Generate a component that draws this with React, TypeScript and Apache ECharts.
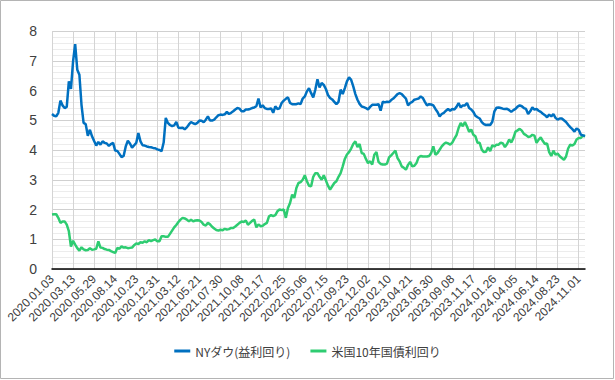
import React, { useEffect, useRef } from "react";
import * as echarts from "echarts";

const tickLabels = [
  "2020.01.03", "2020.03.13", "2020.05.29", "2020.08.14", "2020.10.23", "2020.12.31",
  "2021.03.12", "2021.05.21", "2021.07.30", "2021.10.08", "2021.12.17", "2022.02.25",
  "2022.05.06", "2022.07.15", "2022.09.23", "2022.12.02", "2023.02.10", "2023.04.21",
  "2023.06.30", "2023.09.08", "2023.11.17", "2024.01.26", "2024.04.05", "2024.06.14",
  "2024.08.23", "2024.11.01",
];

const dowYield = [
  5.21, 5.15, 5.13, 5.25, 5.66, 5.50, 5.41, 5.45, 6.31, 6.05,
  6.98, 7.56, 6.70, 6.53, 5.52, 4.91, 4.87, 4.48, 4.68, 4.46,
  4.30, 4.15, 4.27, 4.18, 4.29, 4.24, 4.22, 4.14, 4.20, 4.24,
  3.98, 3.97, 3.87, 3.76, 3.80, 4.12, 4.31, 4.22, 4.08, 4.16,
  4.24, 4.57, 4.29, 4.16, 4.15, 4.12, 4.10, 4.09, 4.07, 4.06,
  4.02, 4.00, 3.96, 4.25, 5.08, 4.91, 4.84, 4.80, 4.83, 4.94,
  4.75, 4.74, 4.75, 4.70, 4.76, 4.86, 4.94, 4.90, 4.87, 4.91,
  4.99, 4.98, 4.93, 5.02, 5.13, 4.99, 4.99, 5.02, 5.10, 5.17,
  5.19, 5.18, 5.20, 5.28, 5.21, 5.25, 5.30, 5.36, 5.41, 5.39,
  5.30, 5.30, 5.36, 5.36, 5.38, 5.41, 5.43, 5.47, 5.73, 5.43,
  5.50, 5.41, 5.38, 5.38, 5.40, 5.25, 5.47, 5.38, 5.40, 5.58,
  5.66, 5.72, 5.77, 5.58, 5.54, 5.54, 5.54, 5.57, 5.54, 5.73,
  5.80, 5.97, 6.08, 5.91, 5.77, 6.03, 6.38, 6.10, 6.25, 6.19,
  6.05, 5.85, 5.75, 5.70, 5.62, 5.54, 5.62, 6.03, 5.88, 6.08,
  6.31, 6.44, 6.36, 6.14, 5.88, 5.69, 5.55, 5.46, 5.44, 5.41,
  5.36, 5.45, 5.52, 5.52, 5.52, 5.54, 5.32, 5.62, 5.60, 5.62,
  5.61, 5.68, 5.73, 5.80, 5.88, 5.91, 5.88, 5.80, 5.73, 5.50,
  5.58, 5.62, 5.69, 5.71, 5.73, 5.80, 5.75, 5.62, 5.50, 5.54,
  5.53, 5.50, 5.38, 5.28, 5.13, 5.21, 5.25, 5.32, 5.38, 5.32,
  5.38, 5.36, 5.45, 5.58, 5.43, 5.50, 5.50, 5.58, 5.41, 5.36,
  5.28, 5.15, 5.10, 5.06, 4.94, 4.87, 4.84, 4.85, 4.84, 4.95,
  5.30, 5.42, 5.43, 5.41, 5.39, 5.38, 5.39, 5.34, 5.28, 5.34,
  5.38, 5.46, 5.50, 5.47, 5.41, 5.38, 5.21, 5.30, 5.43, 5.36,
  5.38, 5.32, 5.28, 5.22, 5.17, 5.10, 5.19, 5.13, 5.21, 5.08,
  5.02, 5.06, 5.06, 5.00, 4.94, 4.85, 4.77, 4.70, 4.62, 4.72,
  4.68, 4.52, 4.49, 4.48,
];

const us10y = [
  1.83, 1.84, 1.84, 1.72, 1.55, 1.60, 1.60, 1.49, 1.27, 0.75,
  0.95, 0.82, 0.70, 0.62, 0.73, 0.66, 0.63, 0.64, 0.70, 0.65,
  0.66, 0.68, 0.93, 0.72, 0.71, 0.67, 0.65, 0.64, 0.60, 0.57,
  0.54, 0.71, 0.68, 0.76, 0.72, 0.73, 0.70, 0.71, 0.72, 0.80,
  0.86, 0.84, 0.90, 0.88, 0.93, 0.90, 0.97, 0.94, 0.97, 0.99,
  0.93, 0.93, 1.10, 1.10, 1.08, 1.08, 1.18, 1.29, 1.40, 1.48,
  1.58, 1.66, 1.72, 1.70, 1.66, 1.60, 1.66, 1.60, 1.63, 1.64,
  1.63, 1.58, 1.49, 1.46, 1.55, 1.50, 1.42, 1.36, 1.31, 1.29,
  1.32, 1.30, 1.35, 1.33, 1.34, 1.38, 1.38, 1.43, 1.49, 1.55,
  1.60, 1.58, 1.63, 1.49, 1.55, 1.62, 1.66, 1.40, 1.50, 1.44,
  1.45, 1.51, 1.55, 1.77, 1.81, 1.78, 1.81, 1.94, 2.00, 1.98,
  2.00, 1.72, 2.05, 2.22, 2.50, 2.39, 2.72, 2.89, 2.92, 3.00,
  3.15, 2.95, 2.80, 2.78, 3.10, 3.22, 3.22, 3.10, 3.00, 3.15,
  2.98, 2.80, 2.67, 2.78, 2.89, 2.95, 3.10, 3.22, 3.45, 3.70,
  3.85, 3.93, 4.05, 4.20, 4.29, 4.10, 4.20, 3.90, 3.87, 3.70,
  3.56, 3.62, 3.51, 3.84, 3.93, 3.60, 3.53, 3.51, 3.51, 3.54,
  3.75, 3.82, 3.90, 3.98, 3.73, 3.62, 3.45, 3.40, 3.34, 3.50,
  3.60, 3.45, 3.47, 3.56, 3.75, 3.80, 3.78, 3.78, 3.78, 3.80,
  3.90, 4.12, 3.84, 3.90, 4.01, 4.12, 4.20, 4.25, 4.22, 4.18,
  4.25, 4.38, 4.50, 4.74, 4.91, 4.80, 4.94, 4.79, 4.61, 4.69,
  4.51, 4.46, 4.24, 4.24, 4.01, 3.93, 3.94, 4.09, 3.96, 4.16,
  4.12, 4.18, 4.18, 4.25, 4.22, 4.10, 4.20, 4.35, 4.25, 4.40,
  4.62, 4.66, 4.71, 4.65, 4.54, 4.50, 4.44, 4.45, 4.51, 4.48,
  4.24, 4.35, 4.42, 4.30, 4.20, 4.22, 3.93, 3.80, 3.98, 3.84,
  3.88, 3.79, 3.73, 3.67, 3.78, 4.05, 4.18, 4.15, 4.20, 4.35,
  4.40, 4.40, 4.49, 4.45,
];

const seriesNames = ["NYダウ(益利回り)", "米国10年国債利回り"];

function pad(n: number) {
  return n < 10 ? "0" + n : "" + n;
}

function buildCategories(count: number): string[] {
  const out: string[] = [];
  for (let i = 0; i < count; i++) {
    const k = Math.floor(i / 10);
    const j = i % 10;
    if (j === 0 && k < tickLabels.length) {
      out.push(tickLabels[k]);
    } else {
      const base = tickLabels[Math.min(k, tickLabels.length - 1)].split(".").map(Number);
      const extra = k < tickLabels.length ? j : i - (tickLabels.length - 1) * 10;
      const d = new Date(Date.UTC(base[0], base[1] - 1, base[2] + 7 * extra));
      out.push(d.getUTCFullYear() + "." + pad(d.getUTCMonth() + 1) + "." + pad(d.getUTCDate()));
    }
  }
  return out;
}

export default function App() {
  const ref = useRef<HTMLDivElement>(null);
  useEffect(() => {
    if (!ref.current) return;
    const chart = echarts.init(ref.current, undefined, { renderer: "svg" });
    const categories = buildCategories(dowYield.length);
    chart.setOption({
      animation: false,
      backgroundColor: "#ffffff",
      graphic: [
        {
          type: "rect",
          shape: { x: 0.5, y: 0.5, width: 613, height: 378 },
          style: { fill: "none", stroke: "#b4b4b4", lineWidth: 1 },
          silent: true,
        },
      ],
      grid: { left: 52, right: 30, top: 31, bottom: 111, containLabel: false },
      legend: {
        data: seriesNames,
        bottom: 18,
        left: "center",
        icon: "rect",
        itemWidth: 16,
        itemHeight: 3,
        itemGap: 20,
        textStyle: { fontFamily: "Noto Sans CJK JP", fontSize: 12, color: "#404040" },
      },
      xAxis: {
        type: "category",
        data: categories,
        boundaryGap: false,
        axisLine: { show: true, lineStyle: { color: "#000000", width: 1.5 } },
        axisTick: { show: false },
        axisLabel: {
          interval: 9,
          rotate: 45,
          margin: 8,
          fontFamily: "Liberation Sans",
          fontSize: 12,
          color: "#404040",
        },
        splitLine: { show: true, interval: 9, lineStyle: { color: "#d4d4d4", width: 1 } },
      },
      yAxis: {
        type: "value",
        min: 0,
        max: 8,
        interval: 1,
        axisLine: { show: false },
        axisTick: { show: false },
        axisLabel: { margin: 15, fontFamily: "Liberation Sans", fontSize: 14, color: "#404040" },
        splitLine: { show: true, lineStyle: { color: "#d0d0d0", width: 1 } },
        minorTick: { show: false, splitNumber: 5 },
        minorSplitLine: { show: true, lineStyle: { color: "#ececec", width: 1 } },
      },
      series: [
        {
          name: seriesNames[0],
          type: "line",
          data: dowYield,
          showSymbol: false,
          symbol: "none",
          lineStyle: { color: "#0070C0", width: 2.5 },
          itemStyle: { color: "#0070C0" },
          z: 3,
        },
        {
          name: seriesNames[1],
          type: "line",
          data: us10y,
          showSymbol: false,
          symbol: "none",
          lineStyle: { color: "#2ECC71", width: 2.5 },
          itemStyle: { color: "#2ECC71" },
          z: 2,
        },
      ],
    });
    return () => chart.dispose();
  }, []);
  return (
    <div
      ref={ref}
      style={{ position: "fixed", left: 0, top: 0, width: 615, height: 380 }}
    />
  );
}
